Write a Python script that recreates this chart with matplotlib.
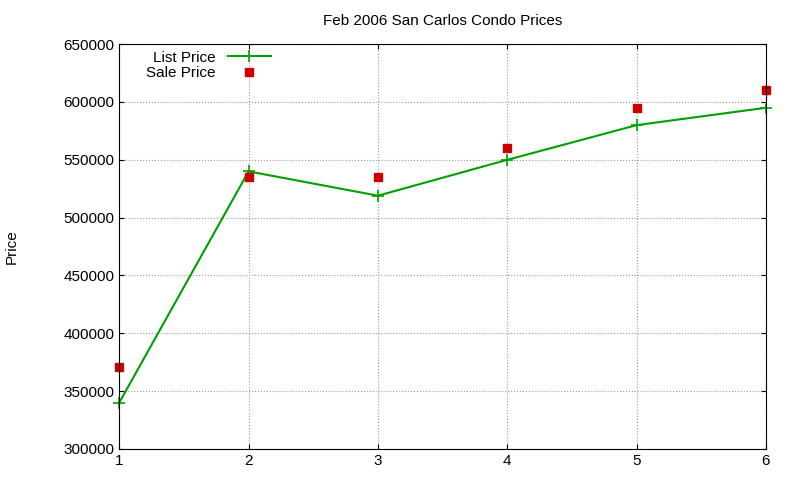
import matplotlib; matplotlib.use('Agg')
import matplotlib.pyplot as plt

plt.rcParams['font.family'] = ['Liberation Sans', 'DejaVu Sans']

x = [1, 2, 3, 4, 5, 6]
list_price = [340000, 540000, 519000, 550000, 580000, 595000]
sale_price = [371000, 535000, 535000, 560000, 595000, 610000]

fig = plt.figure(figsize=(8, 4.8), dpi=100)
ax = fig.add_axes([0.149, 0.0646, 0.8085, 0.8434])
ax.plot(x, list_price, color='#00a000', lw=1.5, marker='+', ms=8, mew=1.2,
        label='List Price', clip_on=False)
ax.plot(x, sale_price, ls='none', marker='s', ms=6, color='#cc0000',
        label='Sale Price', clip_on=False)
ax.set_xlim(1, 6)
ax.set_ylim(300000, 650000)
ax.set_yticks(range(300000, 650001, 50000))
ax.set_xticks(x)
ax.grid(True, ls=':', color='#999999', lw=0.8)
ax.tick_params(direction='in', labelsize=11, top=True, right=True)
ax.set_ylabel('Price', fontsize=11, labelpad=32)
ax.set_title('Feb 2006 San Carlos Condo Prices', fontsize=11, pad=14)
ax.legend(loc='upper left', bbox_to_anchor=(0.025, 1.01), frameon=False, markerfirst=False,
          fontsize=11, handlelength=2.8, borderaxespad=0.3, labelspacing=0.1)
fig.savefig('out.png', dpi=100)
